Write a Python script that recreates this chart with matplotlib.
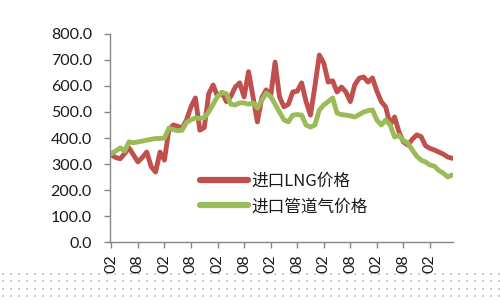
import matplotlib
matplotlib.use("Agg")
import matplotlib.pyplot as plt
import numpy as np

# Data (monthly, starting Feb)
lng_price = [335, 325, 320, 340, 362, 335, 308, 325, 346, 290,
             269, 346, 315, 431, 450, 445, 438, 470, 520, 554,
             430, 440, 570, 604, 560, 575, 540, 560, 596, 612,
             558, 655, 560, 462, 555, 585, 560, 692, 558, 520,
             530, 577, 580, 612, 540, 488, 600, 719, 688, 615,
             620, 577, 596, 577, 540, 604, 630, 635, 615, 631,
             580, 540, 519, 450, 481, 423, 385, 373, 395, 412,
             405, 370, 360, 354, 346, 338, 327, 322]
pipe_price = [340, 350, 362, 350, 385, 382, 385, 388, 392, 395,
              398, 398, 400, 438, 432, 428, 430, 460, 470, 477,
              475, 478, 500, 530, 560, 575, 570, 530, 527, 535,
              535, 530, 535, 515, 545, 573, 560, 530, 500, 470,
              462, 488, 490, 488, 450, 442, 450, 508, 527, 540,
              554, 496, 490, 488, 485, 481, 490, 500, 505, 508,
              469, 450, 469, 450, 404, 410, 390, 380, 354, 330,
              315, 308, 296, 292, 275, 265, 250, 258]
tick_labels = ["02", "08"] * 6 + ["02"]
series_names = ["进口LNG价格", "进口管道气价格"]

fig = plt.figure(figsize=(5, 3), dpi=100)
fig.patch.set_facecolor("white")

# dotted background strip at bottom
gx, gy = np.meshgrid(np.arange(3, 500, 8), np.arange(274, 300, 7.3))
dots = fig.add_axes([0, 0, 1, 1], zorder=-1)
dots.set_xlim(0, 500)
dots.set_ylim(300, 0)
dots.axis("off")
dots.scatter(gx.ravel(), gy.ravel(), s=0.6, color="#cccccc", marker="s", linewidths=0)

ax = fig.add_axes([0.22, 0.1933, 0.686, 0.6934])
x = np.arange(len(lng_price))
ax.plot(x, lng_price, color="#C0504D", lw=3.5, solid_capstyle="round", solid_joinstyle="round", label=series_names[0])
ax.plot(x, pipe_price, color="#9BBB59", lw=3.5, solid_capstyle="round", solid_joinstyle="round", label=series_names[1])

ax.set_ylim(0, 800)
ax.set_xlim(-0.3, 77.2)
ax.set_yticks(np.arange(0, 801, 100))
ax.set_yticklabels([f"{v:.1f}" for v in range(0, 801, 100)], fontfamily="Lato", fontsize=11.5)
ax.set_xticks(np.arange(0, 73, 6))
ax.set_xticklabels(tick_labels, rotation=90, fontfamily="Lato", fontsize=11.5)
for s in ["top", "right"]:
    ax.spines[s].set_visible(False)
for s in ["left", "bottom"]:
    ax.spines[s].set_color("#868686")
    ax.spines[s].set_linewidth(1)
ax.tick_params(axis="both", direction="out", length=4, color="#868686", width=1)
ax.tick_params(axis="y", pad=9)
ax.tick_params(axis="x", pad=5)
for t in ax.get_yticklabels() + ax.get_xticklabels():
    t.set_color("#1a1a1a")

leg = ax.legend(loc="upper left", bbox_to_anchor=(200 / 500, 1 - 173 / 300),
                bbox_transform=fig.transFigure, frameon=False,
                prop={"family": ["Noto Sans CJK SC", "DejaVu Sans"], "size": 12},
                handlelength=2.9, handletextpad=0.2, labelspacing=0.5, borderpad=0,
                borderaxespad=0)
for h in leg.get_lines():
    h.set_linewidth(4.5)
for t in leg.get_texts():
    t.set_color("#1a1a1a")

fig.savefig("out.png", dpi=100, facecolor="white")
